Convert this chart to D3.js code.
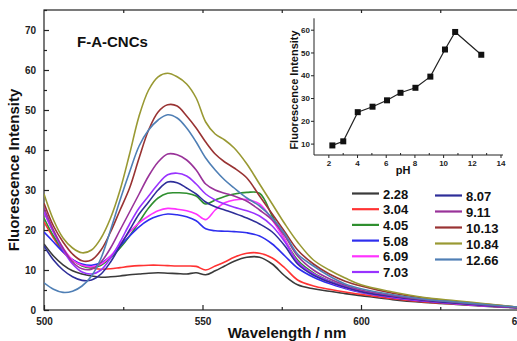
<!DOCTYPE html>
<html>
<head>
<meta charset="utf-8">
<script src="https://cdn.jsdelivr.net/npm/d3@7"></script>
<style>
  body { margin: 0; background: #fff; }
  svg { font-family: "Liberation Sans", Arial, sans-serif; font-weight: bold; }
</style>
</head>
<body>
<div id="chart"></div>
<script>
// wavelength grid (nm) shared by all spectra
const wavelengths = [500, 503, 506, 509, 512, 515, 518, 521, 524, 527, 530, 533, 536, 539, 542, 545, 548, 551, 554, 557, 560, 564, 568, 572, 576, 580, 585, 590, 595, 600, 610, 620, 630, 640, 650];

const ph228 = [16.5, 13.5, 11.3, 9.8, 9, 8.5, 8.2, 8.3, 8.5, 8.8, 9, 9.2, 9.3, 9.2, 9.1, 9, 9.3, 8.8, 9.8, 11, 12.2, 13.2, 13.2, 11.5, 8.5, 6.3, 5.3, 4.7, 4.1, 3.6, 2.6, 1.9, 1.4, 0.9, 0.5];
const ph304 = [22, 18, 14.5, 12.5, 11.2, 10.5, 10.2, 10.3, 10.6, 10.9, 11.1, 11.2, 11.2, 11.1, 11, 11, 10.9, 10, 11, 12, 13.2, 14.2, 14.2, 13, 10.5, 7.5, 6, 5.2, 4.5, 3.9, 2.8, 2, 1.5, 1, 0.6];
const ph405 = [23, 18.5, 15, 12.5, 11, 10.5, 11.2, 13, 15.5, 18.5, 22, 25.5, 28, 29.2, 29.3, 29.2, 28.5, 26.5, 27.5, 28.4, 29, 29.4, 29.2, 23.5, 17.5, 12.5, 9.3, 7.3, 5.8, 4.7, 3.4, 2.4, 1.7, 1.1, 0.6];
const ph508 = [19.5, 17, 14.5, 12.6, 11.5, 11.2, 11.8, 13.5, 16, 18.5, 20.8, 22.5, 23.5, 24, 23.8, 23.3, 22.3, 20.3, 19.8, 19.7, 19.6, 19.3, 18.5, 16.5, 13.5, 10.5, 8.2, 6.6, 5.4, 4.4, 3.1, 2.2, 1.6, 1, 0.6];
const ph609 = [24.5, 19.5, 15.5, 12.5, 11.2, 10.8, 11.5, 13.5, 16.5, 19.5, 21.8, 23.5, 24.8, 25.4, 25.2, 24.8, 24, 22.6, 25, 26.8, 27.5, 27.6, 26.5, 22.5, 17.5, 12, 9, 7, 5.6, 4.5, 3.2, 2.3, 1.6, 1, 0.6];
const ph703 = [24.5, 19.5, 15, 11.5, 9.5, 9, 10, 13, 17, 21.5, 25.5, 28.5, 31.5, 33.8, 34.2, 33.5, 31.5, 29, 27.5, 26.5, 25.7, 24.8, 23.5, 21, 17, 12, 9, 7.2, 5.8, 4.7, 3.4, 2.4, 1.7, 1.1, 0.6];
const ph807 = [16, 12.5, 10, 8.3, 7.4, 7.5, 9, 12, 16, 20, 24, 27, 30, 32, 31.8, 30.5, 29, 27, 25.8, 25, 24.2, 23, 21.5, 19.5, 16, 11.5, 8.7, 7, 5.7, 4.6, 3.3, 2.4, 1.7, 1.1, 0.6];
const ph911 = [25.5, 20, 15.5, 12, 10.3, 10.2, 12, 15.5, 20, 24.5, 29, 33.5, 37, 39, 38.8, 37.5, 35, 31.5, 30, 29.2, 28.5, 27.2, 25, 22.5, 18.5, 13.5, 10, 7.8, 6.2, 5, 3.6, 2.6, 1.9, 1.2, 0.6];
const ph1013 = [26.7, 21, 17, 14, 12.3, 12.5, 15, 19.5, 25, 30.5, 38, 45, 49.5, 51.3, 51, 48.5, 45.5, 42, 39, 37, 35.5, 33, 28.5, 24, 19.5, 15, 11.5, 9, 7.2, 6, 4.2, 3, 2.1, 1.4, 0.7];
const ph1084 = [29, 22.5, 18, 15.5, 14.3, 15, 18, 23, 30, 39, 48.5, 55, 58.3, 59.2, 58.3, 56.5, 53, 47, 44, 42.5, 40.5, 36.5, 31.5, 26.5, 21.5, 17, 12.5, 10, 8, 6.3, 4.5, 3.1, 2.3, 1.5, 0.7];
const ph1266 = [6.8, 5.2, 4.4, 4.7, 6, 8.5, 13, 20, 27.5, 34.5, 41, 45, 47.5, 48.8, 48, 45.5, 42, 38, 35, 32.5, 30.5, 28, 26, 23, 19, 14, 11, 8.5, 6.5, 5.3, 3.8, 2.7, 2, 1.3, 0.7];

const phLabels = ["2.28", "3.04", "4.05", "5.08", "6.09", "7.03", "8.07", "9.11", "10.13", "10.84", "12.66"];
const spectra = [ph228, ph304, ph405, ph508, ph609, ph703, ph807, ph911, ph1013, ph1084, ph1266];
const colors = ["#3a3a3a", "#ff3333", "#2f8f2f", "#2e2eee", "#ff33ff", "#9933ff", "#2e2e99", "#993399", "#993333", "#999933", "#4f7fb5"];

// inset: peak intensity vs pH
const insetPH = [2.28, 3.04, 4.05, 5.08, 6.09, 7.03, 8.07, 9.11, 10.13, 10.84, 12.66];
const insetIntensity = [9.2, 11, 23.8, 26.2, 29, 32.3, 34.5, 39.4, 51.3, 59, 49];

const width = 517, height = 341;

const svg = d3.select("#chart").append("svg")
    .attr("width", width)
    .attr("height", height);

const x = d3.scaleLinear().domain([500, 650]).range([44, 519.5]);
const y = d3.scaleLinear().domain([0, 75]).range([310, 10]);

// frame
svg.append("rect")
    .attr("x", x(500)).attr("y", y(75))
    .attr("width", x(650) - x(500)).attr("height", y(0) - y(75))
    .attr("fill", "none").attr("stroke", "#222").attr("stroke-width", 1.2);

// bottom axis (ticks inward)
const xAxis = svg.append("g").attr("transform", `translate(0,${y(0)})`)
    .call(d3.axisBottom(x).tickValues([500, 550, 600, 650]).tickSize(-5).tickPadding(8).tickFormat(d3.format("d")));
svg.append("g").attr("transform", `translate(0,${y(0)})`)
    .call(d3.axisBottom(x).tickValues([525, 575, 625]).tickSize(-3).tickFormat(""));
svg.append("g").attr("transform", `translate(0,${y(75)})`)
    .call(d3.axisTop(x).tickValues([525, 550, 575, 600, 625]).tickSize(-3).tickFormat(""));

// left axis
const yAxis = svg.append("g").attr("transform", `translate(${x(500)},0)`)
    .call(d3.axisLeft(y).tickValues(d3.range(0, 71, 10)).tickSize(-5).tickPadding(8));
svg.append("g").attr("transform", `translate(${x(500)},0)`)
    .call(d3.axisLeft(y).tickValues(d3.range(5, 76, 10)).tickSize(-3).tickFormat(""));

svg.selectAll(".domain").remove();
svg.selectAll(".tick line").attr("stroke", "#222").attr("stroke-width", 1.2);
xAxis.selectAll("text").style("font-size", "10px").style("font-weight", "bold").attr("fill", "#222");
yAxis.selectAll("text").style("font-size", "10px").style("font-weight", "bold").attr("fill", "#222");

// spectra
const line = d3.line()
    .x((d, i) => x(wavelengths[i]))
    .y(d => y(d))
    .curve(d3.curveCatmullRom.alpha(0.5));

const plot = svg.append("g");
plot.append("clipPath").attr("id", "clip").append("rect")
    .attr("x", x(500)).attr("y", y(75)).attr("width", x(650) - x(500)).attr("height", y(0) - y(75));
const curves = plot.append("g").attr("clip-path", "url(#clip)");
spectra.forEach((s, i) => {
    curves.append("path")
        .attr("d", line(s))
        .attr("fill", "none")
        .attr("stroke", colors[i])
        .attr("stroke-width", 1.6);
});

// labels
svg.append("text")
    .attr("x", 77).attr("y", 47)
    .style("font-size", "15px").attr("fill", "#111")
    .text("F-A-CNCs");

svg.append("text")
    .attr("transform", `translate(19,170) rotate(-90)`)
    .attr("text-anchor", "middle")
    .style("font-size", "15px").attr("fill", "#111")
    .text("Fluorescence Intensity");

svg.append("text")
    .attr("x", 287).attr("y", 338)
    .attr("text-anchor", "middle")
    .style("font-size", "15px").attr("fill", "#111")
    .text("Wavelength / nm");

// legend, two columns
const legend = svg.append("g");
phLabels.forEach((lab, i) => {
    const col = i < 6 ? 0 : 1;
    const row = col === 0 ? i : i - 6;
    const lx = col === 0 ? 352 : 435;
    const ly = col === 0 ? 193.5 + row * 15.7 : 195.5 + row * 16;
    const g = legend.append("g").attr("transform", `translate(${lx},${ly})`);
    g.append("line")
        .attr("x1", 0).attr("x2", 27).attr("y1", 0).attr("y2", 0)
        .attr("stroke", colors[i]).attr("stroke-width", 2.2);
    g.append("text")
        .attr("x", 31).attr("y", 5)
        .style("font-size", "13px").attr("fill", "#111")
        .text(lab);
});

// inset
const ix = d3.scaleLinear().domain([1, 14]).range([314, 500.5]);
const iy = d3.scaleLinear().domain([5, 65]).range([155, 18.3]);
const inset = svg.append("g");

inset.append("line").attr("x1", 314).attr("x2", 503).attr("y1", iy(5)).attr("y2", iy(5))
    .attr("stroke", "#222").attr("stroke-width", 1);
inset.append("line").attr("x1", 314).attr("x2", 314).attr("y1", iy(5)).attr("y2", iy(65))
    .attr("stroke", "#222").attr("stroke-width", 1);

const ixAxis = inset.append("g").attr("transform", `translate(0,${iy(5)})`)
    .call(d3.axisBottom(ix).tickValues(d3.range(2, 15, 2)).tickSize(3).tickPadding(2));
inset.append("g").attr("transform", `translate(0,${iy(5)})`)
    .call(d3.axisBottom(ix).tickValues(d3.range(3, 14, 2)).tickSize(-2).tickFormat(""));
const iyAxis = inset.append("g").attr("transform", `translate(314,0)`)
    .call(d3.axisLeft(iy).tickValues(d3.range(10, 61, 10)).tickSize(3).tickPadding(1));
inset.selectAll(".domain").remove();
inset.selectAll(".tick line").attr("stroke", "#222");
ixAxis.selectAll("text").style("font-size", "8px").style("font-weight", "bold").attr("fill", "#222");
iyAxis.selectAll("text").style("font-size", "8px").style("font-weight", "bold").attr("fill", "#222");

const iline = d3.line()
    .x((d, i) => ix(insetPH[i]))
    .y(d => iy(d));
inset.append("path")
    .attr("d", iline(insetIntensity))
    .attr("fill", "none").attr("stroke", "#222").attr("stroke-width", 1.2);
inset.selectAll(".pt")
    .data(insetIntensity)
    .enter().append("rect")
    .attr("x", (d, i) => ix(insetPH[i]) - 3)
    .attr("y", d => iy(d) - 3)
    .attr("width", 6).attr("height", 6)
    .attr("fill", "#111");

inset.append("text")
    .attr("x", 403).attr("y", 174)
    .attr("text-anchor", "middle")
    .style("font-size", "11px").attr("fill", "#111")
    .text("pH");
inset.append("text")
    .attr("transform", `translate(298,90) rotate(-90)`)
    .attr("text-anchor", "middle")
    .style("font-size", "11px").attr("fill", "#111")
    .text("Fluorescence Intensity");
</script>
</body>
</html>
